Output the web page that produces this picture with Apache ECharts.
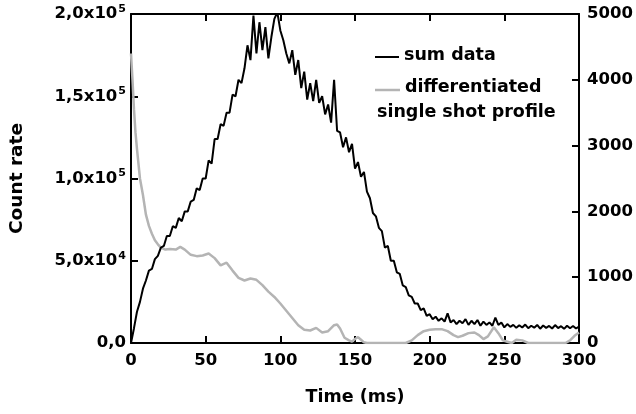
<!DOCTYPE html>
<html>
<head>
<meta charset="utf-8">
<script src="https://cdn.jsdelivr.net/npm/echarts@6/dist/echarts.min.js"></script>
<style>html,body{margin:0;padding:0;background:#fff;}#c{width:636px;height:414px;}</style>
</head>
<body>
<div id="c"></div>
<script>
// ---- data ----
const sumTime = [0,2,4,6,8,10,12,14,16,18,20,22,24,26,28,30,32,34,36,38,40,42,44,46,48,50,52,54,56,58,60,62,64,66,68,70,72,74,76,78,80,82,84,86,88,90,92,94,96,98,100,102,104,106,108,110,112,114,116,118,120,122,124,126,128,130,132,134,136,138,140,142,144,146,148,150,152,154,156,158,160,162,164,166,168,170,172,174,176,178,180,182,184,186,188,190,192,194,196,198,200,202,204,206,208,210,212,214,216,218,220,222,224,226,228,230,232,234,236,238,240,242,244,246,248,250,252,254,256,258,260,262,264,266,268,270,272,274,276,278,280,282,284,286,288,290,292,294,296,298,300];
const sumData = [0,9000,19000,25000,33000,38000,44000,45000,51000,53000,58000,59000,65000,65000,71000,70000,76000,74000,80000,80000,86000,87000,94000,93000,100000,100000,111000,109000,124000,124000,133000,132000,140000,140000,151000,150000,160000,158000,167000,181000,172000,199000,176000,195000,178000,192000,173000,186000,197000,201000,190000,184000,176000,170000,178000,163000,172000,155000,165000,148000,158000,147000,160000,146000,150000,139000,145000,134000,160000,129000,128000,119000,125000,116000,121000,106000,110000,101000,104000,92000,88000,79000,77000,70000,68000,58000,59000,50000,50000,43000,42000,35000,34000,29000,28000,24000,24000,20000,21000,16500,17500,14500,16000,13500,15000,13000,18000,12500,14000,11500,13500,12000,14500,11000,13500,11500,14000,10500,13000,11000,12500,10500,15500,11000,12500,9500,11500,9800,11000,9200,10800,9400,11200,9000,10500,9300,11000,8700,10600,9200,10400,8800,10900,9100,10200,8600,10500,9000,10300,8800,10000];
const diffTime = [0,1,2,3,4,6,8,10,12,14,16,18,20,23,26,30,33,36,40,44,48,52,56,60,64,68,72,76,80,84,88,92,96,100,104,108,112,116,120,124,128,132,136,138,140,143,146,148,150,152,154,156,158,160,170,180,184,188,192,196,200,204,208,212,216,219,222,226,230,233,236,239,243,246,249,252,255,258,262,266,270,280,288,291,294,297,300];
const diffData = [4400,4000,3550,3200,2950,2500,2250,1950,1780,1660,1560,1500,1450,1420,1430,1420,1460,1420,1340,1320,1330,1360,1290,1180,1220,1100,990,950,980,960,880,780,700,600,490,380,270,200,190,230,160,180,270,280,220,80,40,20,60,90,50,10,0,0,0,0,0,40,120,180,200,210,210,180,120,90,110,150,160,120,60,100,240,150,40,20,0,50,40,0,0,0,0,0,40,110,160];
const xTicks = [0,50,100,150,200,250,300];
const leftTickLabels = {0:'{b|0,0}',50000:'{b|5,0x10}{s|4}',100000:'{b|1,0x10}{s|5}',150000:'{b|1,5x10}{s|5}',200000:'{b|2,0x10}{s|5}'};
const seriesNames = ['sum data','differentiated','single shot profile'];

const FONT = '"DejaVu Sans", "Liberation Sans", Arial, sans-serif';
const sumPairs = sumTime.map((t,i)=>[t,sumData[i]]);
const diffPairs = diffTime.map((t,i)=>[t,diffData[i]]);

const axisLineStyle = {color:'#000', width:2};
const chart = echarts.init(document.getElementById('c'), null, {renderer:'canvas'});
chart.setOption({
  animation:false,
  backgroundColor:'#fff',
  grid:{left:131,right:57,top:14,bottom:71,containLabel:false},
  xAxis:[{
    type:'value', min:0, max:300, interval:50, position:'bottom',
    name:'Time (ms)', nameLocation:'middle', nameGap:45,
    nameTextStyle:{fontFamily:FONT,fontWeight:'bold',fontSize:17.5,color:'#000'},
    axisLine:{show:true,onZero:false,lineStyle:axisLineStyle},
    axisTick:{show:true,inside:true,length:7,lineStyle:axisLineStyle},
    axisLabel:{fontFamily:FONT,fontWeight:'bold',fontSize:16.5,color:'#000',margin:9,
      formatter:v=> xTicks.includes(v)? String(v):''},
    splitLine:{show:false}
  },{
    type:'value', min:0, max:300, interval:50, position:'top',
    axisLine:{show:true,onZero:false,lineStyle:axisLineStyle},
    axisTick:{show:true,inside:true,length:7,lineStyle:axisLineStyle},
    axisLabel:{show:false}, splitLine:{show:false}
  }],
  yAxis:[{
    type:'value', min:0, max:200000, interval:50000, position:'left',
    name:'Count rate', nameLocation:'middle', nameGap:104, nameRotate:90,
    nameTextStyle:{fontFamily:FONT,fontWeight:'bold',fontSize:18.5,color:'#000'},
    axisLine:{show:true,onZero:false,lineStyle:axisLineStyle},
    axisTick:{show:true,inside:true,length:7,lineStyle:axisLineStyle},
    axisLabel:{margin:5,formatter:v=>leftTickLabels[v]||'',
      rich:{
        b:{fontFamily:FONT,fontWeight:'bold',fontSize:16.5,color:'#000'},
        s:{fontFamily:FONT,fontWeight:'bold',fontSize:11,color:'#000',padding:[0,0,10,1]}
      }},
    splitLine:{show:false}
  },{
    type:'value', min:0, max:5000, interval:1000, position:'right',
    axisLine:{show:true,onZero:false,lineStyle:axisLineStyle},
    axisTick:{show:true,inside:true,length:7,lineStyle:axisLineStyle},
    axisLabel:{fontFamily:FONT,fontWeight:'bold',fontSize:16.5,color:'#000',margin:8,
      formatter:v=>String(v)},
    splitLine:{show:false}
  }],
  series:[{
    name:seriesNames[0], type:'line', xAxisIndex:0, yAxisIndex:0, data:sumPairs,
    showSymbol:false, symbol:'none', clip:true,
    lineStyle:{color:'#000',width:2}, z:3
  },{
    name:seriesNames[1]+' '+seriesNames[2], type:'line', xAxisIndex:0, yAxisIndex:1, data:diffPairs,
    showSymbol:false, symbol:'none', clip:true,
    lineStyle:{color:'#b4b4b4',width:2.5}, z:2
  }],
  graphic:[
    {type:'line',shape:{x1:375,y1:57,x2:399,y2:57},style:{stroke:'#000',lineWidth:2},z:10},
    {type:'text',style:{text:seriesNames[0],x:404,y:55,fill:'#000',font:'bold 17.5px '+FONT,verticalAlign:'middle'},z:10},
    {type:'line',shape:{x1:375,y1:90,x2:400,y2:90},style:{stroke:'#b4b4b4',lineWidth:2.5},z:10},
    {type:'text',style:{text:seriesNames[1],x:405,y:87,fill:'#000',font:'bold 17.5px '+FONT,verticalAlign:'middle'},z:10},
    {type:'text',style:{text:seriesNames[2],x:377,y:112,fill:'#000',font:'bold 17.5px '+FONT,verticalAlign:'middle'},z:10}
  ]
});
</script>
</body>
</html>
